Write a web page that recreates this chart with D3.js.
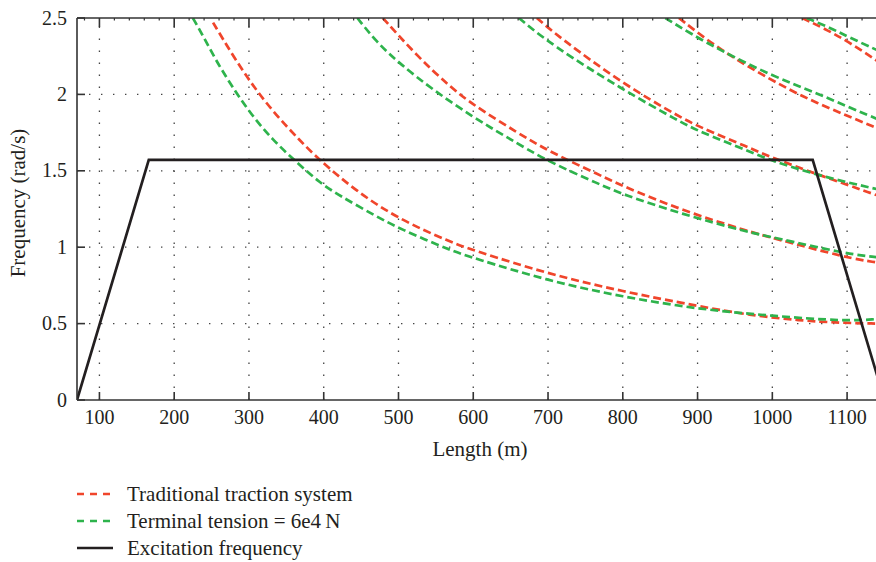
<!DOCTYPE html>
<html>
<head>
<meta charset="utf-8">
<script src="https://cdn.jsdelivr.net/npm/d3@7"></script>
<style>
  body { margin: 0; background: #fff; }
  svg text { font-family: "Liberation Serif", "DejaVu Serif", serif; fill: #231f20; }
</style>
</head>
<body>
<div id="chart"></div>
<script>
// frequency curves vs length
const xTicks = [100, 200, 300, 400, 500, 600, 700, 800, 900, 1000, 1100];
const yTicks = [0, 0.5, 1, 1.5, 2, 2.5];

// traditional traction system, modes 1..5  [length, frequency]
const trad1 = [[252,2.47],[279,2.25],[306,2.05],[337,1.86],[368,1.70],[392,1.58],[445,1.36],[502,1.18],[569,1.035],[600,0.98],[700,0.825],[800,0.71],[900,0.615],[970,0.555],[1037,0.52],[1091,0.505],[1140,0.50]];
const trad2 = [[479,2.5],[525,2.25],[569,2.05],[600,1.93],[659,1.75],[700,1.63],[770,1.47],[800,1.40],[877,1.245],[970,1.10],[1001,1.06],[1100,0.93],[1140,0.90]];
const trad3 = [[685,2.5],[716,2.37],[800,2.07],[877,1.85],[901,1.79],[970,1.65],[997,1.59],[1064,1.47],[1140,1.34]];
const trad4 = [[875,2.5],[930,2.29],[1000,2.09],[1047,1.97],[1100,1.86],[1140,1.78]];
const trad5 = [[1040,2.5],[1070,2.43],[1100,2.35],[1140,2.22]];

// terminal tension = 6e4 N, modes 1..5
const tens1 = [[225,2.5],[239,2.38],[255,2.23],[275,2.07],[301,1.88],[332,1.70],[364,1.555],[395,1.42],[422,1.335],[471,1.20],[502,1.12],[569,0.98],[600,0.93],[700,0.78],[800,0.675],[900,0.595],[1000,0.55],[1100,0.515],[1140,0.53]];
const tens2 = [[445,2.5],[471,2.34],[502,2.20],[546,2.03],[600,1.85],[645,1.72],[700,1.56],[770,1.41],[800,1.345],[877,1.22],[970,1.095],[1001,1.065],[1100,0.955],[1140,0.935]];
const tens3 = [[661,2.5],[703,2.33],[800,2.03],[877,1.82],[901,1.76],[970,1.625],[997,1.57],[1064,1.465],[1140,1.38]];
const tens4 = [[857,2.5],[890,2.40],[930,2.29],[1000,2.12],[1064,2.0],[1100,1.92],[1140,1.84]];
const tens5 = [[1046,2.5],[1080,2.43],[1100,2.38],[1140,2.29]];

// excitation frequency
const excitation = [[70,0],[166,1.571],[1054,1.571],[1150,0]];

const legendLabels = ["Traditional traction system", "Terminal tension = 6e4\u2009N", "Excitation frequency"];

const width = 876, height = 562;
const margin = { left: 77, top: 18, right: -1, bottom: 162 };
const red = "#f0452b", green = "#2eb34c", dark = "#231f20";

const svg = d3.select("#chart").append("svg")
  .attr("width", width).attr("height", height);

const x = d3.scaleLinear().domain([70, 1140]).range([margin.left, width - margin.right]);
const y = d3.scaleLinear().domain([0, 2.5]).range([height - margin.bottom, margin.top]);

const x0 = x.range()[0], x1 = x.range()[1], yb = y(0), yt = y(2.5);

// grid
const grid = svg.append("g").attr("stroke", "#444").attr("stroke-width", 1.3)
  .attr("stroke-dasharray", "1.4,10.6");
xTicks.forEach(t => {
  grid.append("line").attr("x1", x(t)).attr("x2", x(t)).attr("y1", yb).attr("y2", yt);
});
yTicks.slice(1, -1).forEach(t => {
  grid.append("line").attr("x1", x0).attr("x2", x1).attr("y1", y(t)).attr("y2", y(t));
});

// curves
svg.append("clipPath").attr("id", "plot")
  .append("rect").attr("x", x0).attr("y", yt).attr("width", x1 - x0).attr("height", yb - yt);

const line = d3.line().x(d => x(d[0])).y(d => y(d[1])).curve(d3.curveBasis);
const plot = svg.append("g").attr("clip-path", "url(#plot)");

[trad1, trad2, trad3, trad4, trad5].forEach(s => {
  plot.append("path").attr("d", line(s)).attr("fill", "none")
    .attr("stroke", red).attr("stroke-width", 2.7).attr("stroke-dasharray", "8,4");
});
[tens1, tens2, tens3, tens4, tens5].forEach(s => {
  plot.append("path").attr("d", line(s)).attr("fill", "none")
    .attr("stroke", green).attr("stroke-width", 2.7).attr("stroke-dasharray", "8,4");
});
plot.append("path").attr("d", d3.line().x(d => x(d[0])).y(d => y(d[1]))(excitation))
  .attr("fill", "none").attr("stroke", dark).attr("stroke-width", 2.7);

// axes frame
const frame = svg.append("g").attr("stroke", "#333").attr("stroke-width", 1.6);
frame.append("line").attr("x1", x0).attr("x2", x1).attr("y1", yb).attr("y2", yb);
frame.append("line").attr("x1", x0).attr("x2", x1).attr("y1", yt).attr("y2", yt);
frame.append("line").attr("x1", x0).attr("x2", x0).attr("y1", yt).attr("y2", yb);

// x ticks (inward, top and bottom) plus small minor ticks on top
xTicks.forEach(t => {
  frame.append("line").attr("x1", x(t)).attr("x2", x(t)).attr("y1", yb).attr("y2", yb - 8);
  frame.append("line").attr("x1", x(t)).attr("x2", x(t)).attr("y1", yt).attr("y2", yt + 9);
});
d3.range(80, 1140, 20).filter(v => v % 100 !== 0).forEach(t => {
  frame.append("line").attr("x1", x(t)).attr("x2", x(t)).attr("y1", yt).attr("y2", yt + 2.5)
    .attr("stroke-width", 1.2);
});
yTicks.forEach(t => {
  frame.append("line").attr("x1", x0).attr("x2", x0 + 8).attr("y1", y(t)).attr("y2", y(t));
});

// tick labels
svg.append("g").selectAll("text").data(xTicks).join("text")
  .attr("x", d => x(d)).attr("y", yb + 24)
  .attr("text-anchor", "middle").attr("font-size", 20)
  .text(d => d);
svg.append("g").selectAll("text").data(yTicks).join("text")
  .attr("x", x0 - 10).attr("y", d => y(d) + 6.5)
  .attr("text-anchor", "end").attr("font-size", 20)
  .text(d => d);

// axis titles
svg.append("text").attr("x", (x0 + x1) / 2 + 3).attr("y", 456)
  .attr("text-anchor", "middle").attr("font-size", 21).text("Length (m)");
svg.append("text").attr("transform", `translate(25,${(yt + yb) / 2 - 6}) rotate(-90)`)
  .attr("text-anchor", "middle").attr("font-size", 21).text("Frequency (rad/s)");

// legend
const legendStyles = [
  { color: red, dash: "7,6" },
  { color: green, dash: "7,6" },
  { color: dark, dash: null }
];
const legend = svg.append("g");
legendLabels.forEach((label, i) => {
  const ly = 494 + i * 27;
  legend.append("line").attr("x1", 77).attr("x2", 113).attr("y1", ly).attr("y2", ly)
    .attr("stroke", legendStyles[i].color).attr("stroke-width", 2.7)
    .attr("stroke-dasharray", legendStyles[i].dash);
  legend.append("text").attr("x", 127).attr("y", ly + 6.5)
    .attr("font-size", 21).text(label);
});
</script>
</body>
</html>
